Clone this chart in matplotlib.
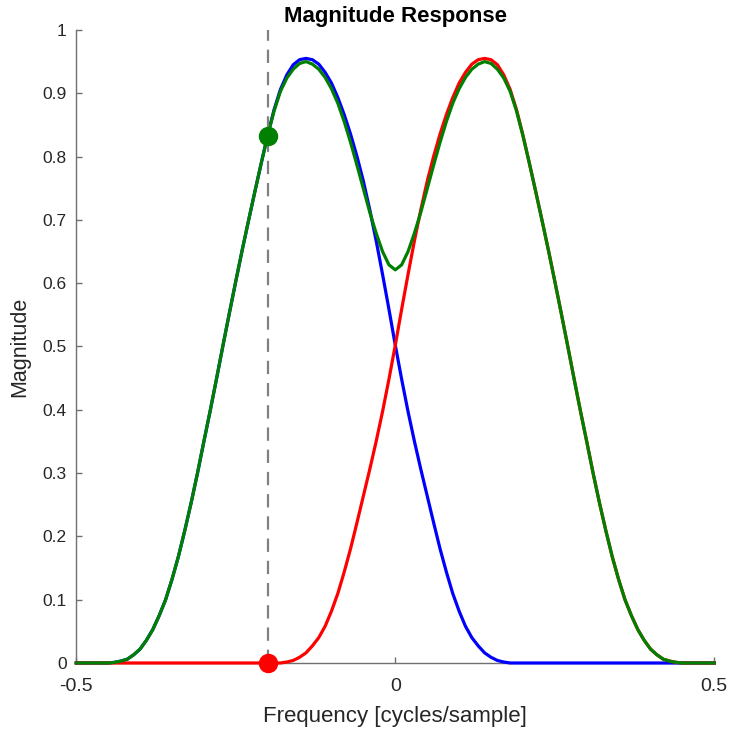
import numpy as np
import matplotlib
matplotlib.use("Agg")
import matplotlib.pyplot as plt

plt.rcParams['font.family'] = ['Liberation Sans', 'DejaVu Sans']

# Frequency grid (cycles/sample), step 0.01 from -0.5 to 0.5
freq = np.linspace(-0.5, 0.5, 101)

# Blue filter magnitude
blue_mag = [
    0, 0, 0, 0, 0, 0.000, 0.001, 0.003, 0.006, 0.013,
    0.022, 0.036, 0.053, 0.075, 0.100, 0.132, 0.168, 0.209, 0.253, 0.300,
    0.350, 0.399, 0.450, 0.502, 0.553, 0.603, 0.652, 0.699, 0.745, 0.790,
    0.834, 0.874, 0.906, 0.929, 0.945, 0.953, 0.955, 0.953, 0.946, 0.933,
    0.916, 0.893, 0.866, 0.835, 0.800, 0.761, 0.716, 0.667, 0.614, 0.559,
    0.502,
    0.448, 0.397, 0.350, 0.306, 0.264, 0.222, 0.181, 0.144, 0.110, 0.082,
    0.058, 0.040, 0.027, 0.016, 0.009, 0.004, 0.0015, 0, 0, 0,
    0, 0, 0, 0, 0, 0, 0, 0, 0, 0,
    0, 0, 0, 0, 0, 0, 0, 0, 0, 0,
    0, 0, 0, 0, 0, 0, 0, 0, 0, 0,
]

# Red filter magnitude
red_mag = [
    0, 0, 0, 0, 0, 0, 0, 0, 0, 0,
    0, 0, 0, 0, 0, 0, 0, 0, 0, 0,
    0, 0, 0, 0, 0, 0, 0, 0, 0, 0,
    0, 0, 0, 0.0015, 0.004, 0.009, 0.016, 0.027, 0.040, 0.058,
    0.082, 0.110, 0.144, 0.181, 0.222, 0.264, 0.306, 0.350, 0.397, 0.448,
    0.502,
    0.559, 0.614, 0.667, 0.716, 0.761, 0.800, 0.835, 0.866, 0.893, 0.916,
    0.933, 0.946, 0.953, 0.955, 0.953, 0.945, 0.929, 0.906, 0.874, 0.834,
    0.790, 0.745, 0.699, 0.652, 0.603, 0.553, 0.502, 0.450, 0.399, 0.350,
    0.300, 0.253, 0.209, 0.168, 0.132, 0.100, 0.075, 0.053, 0.036, 0.022,
    0.013, 0.006, 0.003, 0.001, 0.000, 0, 0, 0, 0, 0,
]

# Green (combined) magnitude
green_mag = [
    0, 0, 0, 0, 0, 0, 0.001, 0.003, 0.006, 0.013,
    0.022, 0.036, 0.053, 0.075, 0.100, 0.132, 0.168, 0.209, 0.253, 0.300,
    0.350, 0.399, 0.450, 0.502, 0.553, 0.603, 0.652, 0.699, 0.745, 0.790,
    0.833, 0.872, 0.903, 0.924, 0.938, 0.947, 0.950, 0.946, 0.938, 0.925,
    0.907, 0.884, 0.855, 0.822, 0.786, 0.749, 0.712, 0.679, 0.650, 0.629,
    0.621,
    0.629, 0.650, 0.679, 0.712, 0.749, 0.786, 0.822, 0.855, 0.884, 0.907,
    0.925, 0.938, 0.946, 0.950, 0.947, 0.938, 0.924, 0.903, 0.872, 0.833,
    0.790, 0.745, 0.699, 0.652, 0.603, 0.553, 0.502, 0.450, 0.399, 0.350,
    0.300, 0.253, 0.209, 0.168, 0.132, 0.100, 0.075, 0.053, 0.036, 0.022,
    0.013, 0.006, 0.003, 0.001, 0, 0, 0, 0, 0, 0,
]

# Marker / cursor
cursor_freq = -0.2
marker_green = 0.833
marker_red = 0.0

x_ticks = [-0.5, 0, 0.5]
x_ticklabels = ["-0.5", "0", "0.5"]
y_ticks = [0, 0.1, 0.2, 0.3, 0.4, 0.5, 0.6, 0.7, 0.8, 0.9, 1]
y_ticklabels = ["0", "0.1", "0.2", "0.3", "0.4", "0.5", "0.6", "0.7", "0.8", "0.9", "1"]

fig = plt.figure(figsize=(7.3, 7.3), dpi=100)
ax = fig.add_axes([0.1045, 0.0918, 0.8740, 0.8672])

lw = 2.3
ax.plot(freq, blue_mag, color=(0, 0, 1), lw=lw, clip_on=False, zorder=3)
ax.plot(freq, red_mag, color=(1, 0, 0), lw=lw, clip_on=False, zorder=4)
ax.plot(freq, green_mag, color=(0, 0.5, 0), lw=lw, clip_on=False, zorder=5)

ax.plot([cursor_freq, cursor_freq], [0, 1], color='#808080', lw=1.6,
        dashes=(6, 4), zorder=6, clip_on=False)
ax.plot([cursor_freq], [marker_green], 'o', color=(0, 0.5, 0), ms=13,
        zorder=7, clip_on=False)
ax.plot([cursor_freq], [marker_red], 'o', color=(1, 0, 0), ms=13,
        zorder=7, clip_on=False)

ax.set_xlim(-0.5, 0.5)
ax.set_ylim(0, 1)
ax.set_xticks(x_ticks)
ax.set_xticklabels(x_ticklabels)
ax.set_yticks(y_ticks)
ax.set_yticklabels(y_ticklabels)

for s in ['top', 'right']:
    ax.spines[s].set_visible(False)
for s in ['left', 'bottom']:
    ax.spines[s].set_color('#707070')
    ax.spines[s].set_linewidth(1.0)

ax.tick_params(direction='in', length=4, width=1.0, color='#707070',
               labelcolor='#262626')
ax.tick_params(axis='y', labelsize=12.5, pad=7)
ax.tick_params(axis='x', labelsize=14, pad=11)

ax.set_xlabel("Frequency [cycles/sample]", fontsize=16, color='#262626', labelpad=8)
ax.set_ylabel("Magnitude", fontsize=15.5, color='#262626', labelpad=9)
ax.set_title("Magnitude Response", fontsize=16, fontweight='bold', color='black', pad=6)

fig.savefig("out.png", dpi=100, facecolor='white')
